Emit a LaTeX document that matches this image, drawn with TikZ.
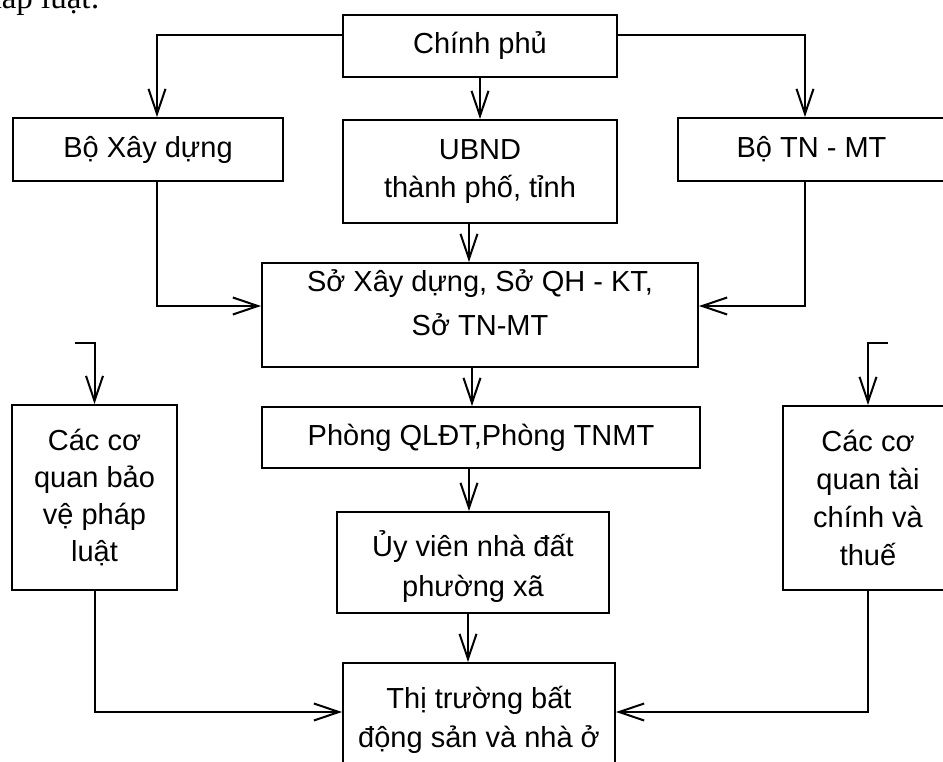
\documentclass[tikz,border=0pt]{standalone}
\usepackage{fontspec}
\setmainfont{Liberation Sans}
\newfontfamily\serifcap{Liberation Serif}
\usetikzlibrary{arrows.meta}
\begin{document}
\begin{tikzpicture}[x=1pt,y=-1pt,
  box/.style={draw, line width=2pt, inner sep=0pt, align=center,
    font=\fontsize{29}{38}\selectfont},
  arr/.style={line width=2pt, -{Straight Barb[length=25pt,width=17pt]}}]
\useasboundingbox (0,0) rectangle (943,762);
\clip (0,0) rectangle (943,762);

% caption line ending above the chart
\node[anchor=base east, inner sep=0pt, font=\serifcap\fontsize{33}{40}\selectfont] (cap) at (100,9) {pháp luật:};

% boxes
\node[box, minimum width=274, minimum height=62] (gov) at (480,46) {Chính phủ};
\node[box, minimum width=270, minimum height=63] (boxd) at (148,149.5) {Bộ Xây dựng};
\node[box, minimum width=274, minimum height=103] (ubnd) at (480,171.5) {UBND\\thành phố, tỉnh};
\node[box, minimum width=267, minimum height=63] (botn) at (811.5,149.5) {Bộ TN - MT};
% the deep strut on the last line lifts the two lines towards the top edge
\node[box, minimum width=436, minimum height=104, font=\fontsize{29}{44}\selectfont] (so) at (480,315) {Sở Xây dựng, Sở QH - KT,\\Sở TN-MT\rule[-25pt]{0pt}{0pt}};
\node[box, minimum width=438, minimum height=61] (phong) at (481,437.5) {Phòng QLĐT,Phòng TNMT};
\node[box, minimum width=165, minimum height=185, font=\fontsize{29}{37}\selectfont] (cqpl) at (94.5,497.5) {Các cơ\\quan bảo\\vệ pháp\\luật};
\node[box, minimum width=170, minimum height=184, font=\fontsize{29}{38}\selectfont] (cqtc) at (868,498) {Các cơ\\quan tài\\chính và\\thuế};
\node[box, minimum width=272, minimum height=101, font=\fontsize{29}{40}\selectfont] (uyvien) at (473,562.5) {\rule{0pt}{34pt}Ủy viên nhà đất\\phường xã};
\node[box, minimum width=272, minimum height=114, font=\fontsize{29}{39}\selectfont] (thi) at (479,720) {Thị trường bất\\động sản và nhà ở};

% free ends of the side inputs
\coordinate (inl) at (75,343);
\coordinate (inr) at (888,343);

% connectors
\draw[arr] ([yshift=11pt]gov.west) -| ([xshift=9pt]boxd.north);
\draw[arr] ([yshift=11pt]gov.east) -| ([xshift=-6.5pt]botn.north);
\draw[arr] (gov.south) -- (ubnd.north);
\draw[arr] ([xshift=-11pt]ubnd.south) -- ([xshift=-11pt]ubnd.south |- so.north);
\draw[arr] ([xshift=9pt]boxd.south) |- ([yshift=9pt]so.west);
\draw[arr] ([xshift=-6.5pt]botn.south) |- ([yshift=9pt]so.east);
\draw[arr] ([xshift=-8pt]so.south) -- ([xshift=-8pt]so.south |- phong.north);
\draw[arr] ([xshift=-12pt]phong.south) -- ([xshift=-12pt]phong.south |- uyvien.north);
\draw[arr] ([xshift=-5pt]uyvien.south) -- ([xshift=-5pt]uyvien.south |- thi.north);
\draw[arr] (inl) -| (cqpl.north);
\draw[arr] (inr) -| (cqtc.north);
\draw[arr] (cqpl.south) |- ([yshift=8pt]thi.west);
\draw[arr] (cqtc.south) |- ([yshift=8pt]thi.east);
\end{tikzpicture}
\end{document}
